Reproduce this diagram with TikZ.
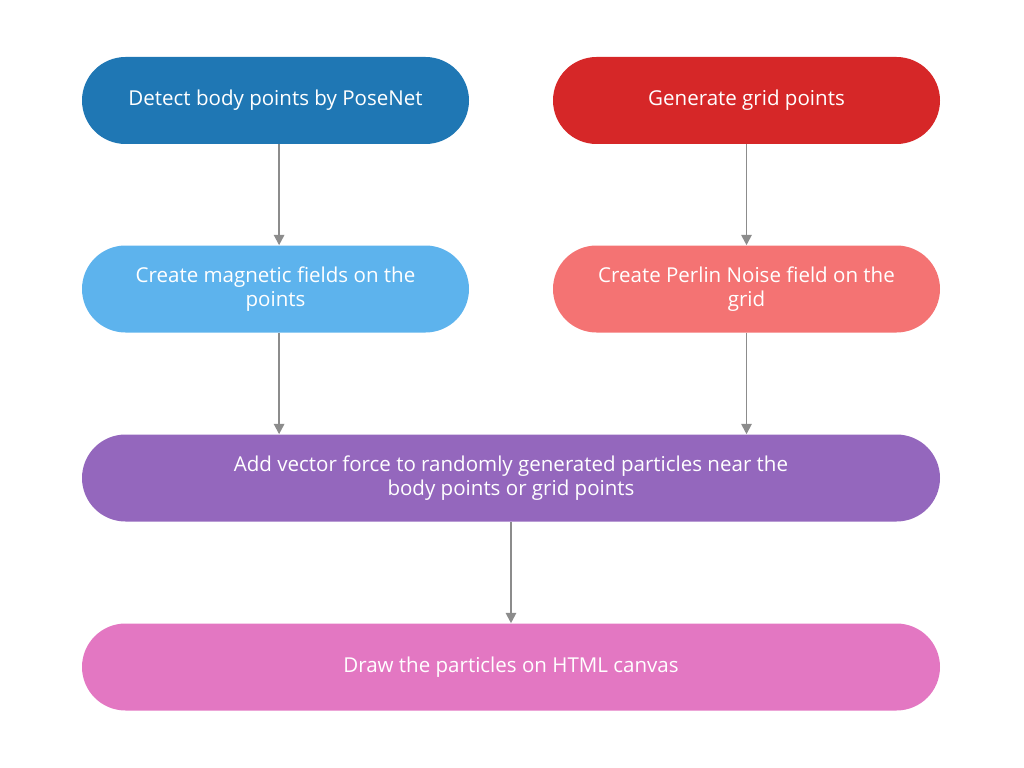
\documentclass[tikz,border=0pt]{standalone}
\usepackage{fontspec}
\setmainfont{Open Sans}
\usetikzlibrary{arrows.meta}
\definecolor{posecol}{HTML}{1F77B4}
\definecolor{gridcol}{HTML}{D62728}
\definecolor{magcol}{HTML}{5DB3ED}
\definecolor{perlincol}{HTML}{F47373}
\definecolor{forcecol}{HTML}{9467BD}
\definecolor{drawcol}{HTML}{E377C2}
\definecolor{arrcol}{HTML}{8C8C8C}
\begin{document}
\begin{tikzpicture}
\tikzset{el/.style={rectangle, rounded corners=1.0875cm, minimum width=9.675cm, minimum height=2.175cm,
  text=white, align=center, font=\fontsize{14.6}{17}\selectfont},
  link/.style={draw=arrcol, line width=1.4pt, -{Triangle[length=2.6mm,width=2.6mm]}}}

\useasboundingbox (0,0) rectangle (25.6,-19.2);

% Top row
\node[el, fill=posecol] (pose) at (6.8875,-2.5125) {Detect body points by PoseNet};
\node[el, fill=gridcol] (grid) at (18.6625,-2.5125) {Generate grid points};

% Fields
\node[el, fill=magcol] (magnet) at (6.8875,-7.225) {Create magnetic fields on the\\points};
\node[el, fill=perlincol] (perlin) at (18.6625,-7.225) {Create Perlin Noise field on the\\grid};

% Particles
\node[el, fill=forcecol, minimum width=21.45cm] (force) at (12.775,-11.95)
{Add vector force to randomly generated particles near the\\body points or grid points};
\node[el, fill=drawcol, minimum width=21.45cm] (canvas) at (12.775,-16.675)
{Draw the particles on HTML canvas};

% Connections
\draw[link] ([xshift=.09cm]pose.south) -- ([xshift=.09cm]magnet.north);
\draw[link] (grid) -- (perlin);
\draw[link] ([xshift=.09cm]magnet.south) -- ([xshift=.09cm]magnet.south |- force.north);
\draw[link] (perlin.south) -- (perlin.south |- force.north);
\draw[link] (force) -- (canvas);

\end{tikzpicture}
\end{document}
